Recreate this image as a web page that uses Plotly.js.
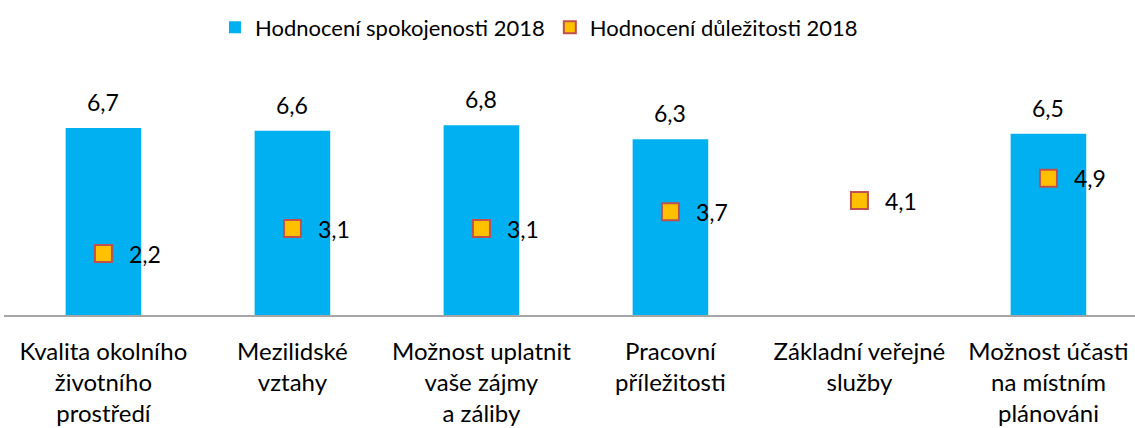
<!DOCTYPE html>
<html>
<head>
<meta charset="utf-8">
<script src="https://cdn.plot.ly/plotly-3.0.1.min.js"></script>
<style>html,body{margin:0;padding:0;background:#fff;}#chart{width:1135px;height:428px;}</style>
</head>
<body>
<div id="chart"></div>
<script>
const categories = ["Kvalita okolního<br>životního<br>prostředí", "Mezilidské<br>vztahy", "Možnost uplatnit<br>vaše zájmy<br>a záliby", "Pracovní<br>příležitosti", "Základní veřejné<br>služby", "Možnost účasti<br>na místním<br>plánováni"];
const satisfaction = [6.7, 6.6, 6.8, 6.3, null, 6.5];
const importance = [2.2, 3.1, 3.1, 3.7, 4.1, 4.9];
const seriesNames = ["Hodnocení spokojenosti 2018", "Hodnocení důležitosti 2018"];

const FONT = "Lato, 'Open Sans', sans-serif";
const idx = categories.map((c, i) => i);

const traces = [
  {type: 'bar', x: idx, y: satisfaction, name: seriesNames[0], width: 0.4,
   marker: {color: '#00B0F0'}, hoverinfo: 'skip'},
  {type: 'scatter', mode: 'markers', x: idx, y: importance, name: seriesNames[1],
   marker: {symbol: 'square', size: 17, color: '#FFC000', line: {color: '#C0504D', width: 2}}, hoverinfo: 'skip'}
];

const annotations = [];
satisfaction.forEach((v, i) => {
  if (v === null) return;
  annotations.push({x: i, y: v, xref: 'x', yref: 'y', text: v.toFixed(1).replace('.', ','),
    showarrow: false, yanchor: 'bottom', yshift: 10, font: {family: FONT, size: 23, color: '#000'}});
});
importance.forEach((v, i) => {
  annotations.push({x: i, y: v, xref: 'x', yref: 'y', text: v.toFixed(1).replace('.', ','),
    showarrow: false, xanchor: 'left', xshift: 24, yanchor: 'middle', font: {family: FONT, size: 23, color: '#000'}});
});

const layout = {
  width: 1135, height: 428,
  margin: {l: 4, r: 0, t: 60, b: 113},
  paper_bgcolor: '#fff', plot_bgcolor: '#fff',
  font: {family: FONT, color: '#000'},
  showlegend: true,
  legend: {orientation: 'h', x: 0.473, xanchor: 'center', y: 0.985, yref: 'container', yanchor: 'top',
           font: {family: FONT, size: 22, color: '#000'}, itemsizing: 'constant', traceorder: 'normal'},
  xaxis: {range: [-0.526, 5.458], tickvals: idx, ticktext: categories, ticks: '', showgrid: false,
          zeroline: false, showline: true, linecolor: '#A6A6A6', linewidth: 2, ticklabelstandoff: 14,
          tickfont: {family: FONT, size: 24, color: '#000'}},
  yaxis: {range: [0, 9.14], visible: false, showgrid: false, zeroline: false},
  annotations: annotations
};

Plotly.newPlot('chart', traces, layout, {staticPlot: true, displayModeBar: false});
</script>
</body>
</html>
